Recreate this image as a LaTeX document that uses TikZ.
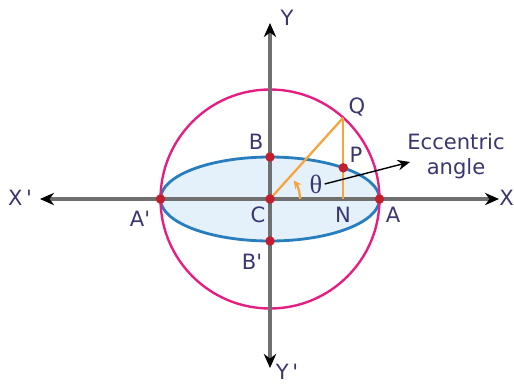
\documentclass[tikz,border=0pt]{standalone}
\usepackage{fontspec}
\setmainfont{DejaVu Sans}
\newfontfamily\thfont{Liberation Serif}
\usetikzlibrary{arrows.meta}
\definecolor{txt}{RGB}{58,54,112}
\definecolor{axisgray}{RGB}{112,112,112}
\definecolor{circ}{RGB}{230,30,130}
\definecolor{ellstroke}{RGB}{40,125,190}
\definecolor{ellfill}{RGB}{228,241,250}
\definecolor{orng}{RGB}{246,165,60}
\definecolor{dotred}{RGB}{195,30,45}
\tikzset{
  x=0.02cm, y=0.02cm,
  axis/.style={draw=axisgray, line width=1.9pt, {Stealth[black,length=8pt,width=7pt]}-{Stealth[black,length=8pt,width=7pt]}},
  lbl/.style={text=txt, font=\fontsize{12}{14}\selectfont, inner sep=0pt},
  dot/.style={circle, fill=dotred, inner sep=0pt, minimum size=5.4pt},
  org/.style={draw=orng, line width=1.3pt},
}
\begin{document}
\begin{tikzpicture}
\clip (-270,-184) rectangle (244,199);
\useasboundingbox (-270,-184) rectangle (244,199);
% ellipse and circle
\draw[fill=ellfill, draw=ellstroke, line width=1.6pt] (0,0) ellipse [x radius=109.5, y radius=42];
\draw[draw=circ, line width=1.35pt] (0,0) circle [radius=109.5];
% axes
\coordinate (xl) at (-230,0);
\coordinate (xr) at (229,0);
\coordinate (yt) at (0,176);
\coordinate (yb) at (0,-169);
\draw[axis] (xl) -- (xr);
\draw[axis] (yb) -- (yt);
% points
\coordinate (C) at (0,0);
\coordinate (Q) at (73.3,81.4);
\coordinate (N) at (73.3,0);
\coordinate (P) at (73.3,31.2);
\draw[org] (C) -- (Q);
\draw[org] (Q) -- (N);
\draw[org, -{Stealth[length=4.5pt,width=4.5pt]}] (30,0) arc[start angle=0, end angle=38, radius=30];
% dots
\node[dot] (dA) at (109.5,0) {};
\node[dot] (dAp) at (-109.5,0) {};
\node[dot] (dB) at (0,42) {};
\node[dot] (dBp) at (0,-42) {};
\node[dot] (dC) at (C) {};
\node[dot] (dP) at (P) {};
% theta and eccentric angle
\node[text=txt, inner sep=0pt, font=\thfont\fontsize{15}{16}\selectfont] (th) at (46,15) {θ};
\node[lbl, align=center, font=\fontsize{12}{14.5}\selectfont] (ecc) at (186,43) {Eccentric\\angle};
\coordinate (arrend) at (140,37);
\draw[black, line width=0.8pt, -{Stealth[length=7pt,width=6pt]}] (th.east) ++(2,0) -- (arrend);
% labels
\node[lbl] (lY) at (17,181) {Y};
\node[lbl] (lYp) at (17,-173) {Y\,\textquotesingle};
\node[lbl] (lXp) at (-250,1) {X\,\textquotesingle};
\node[lbl] (lX) at (236.5,1) {X};
\node[lbl] (lB) at (-14,57) {B};
\node[lbl] (lBp) at (-18,-63) {B\textquotesingle};
\node[lbl] (lAp) at (-130,-20) {A\textquotesingle};
\node[lbl] (lC) at (-12,-16) {C};
\node[lbl] (lN) at (73,-16) {N};
\node[lbl] (lA) at (123,-16) {A};
\node[lbl] (lQ) at (87,92) {Q};
\node[lbl] (lP) at (86,44) {P};
\end{tikzpicture}
\end{document}
